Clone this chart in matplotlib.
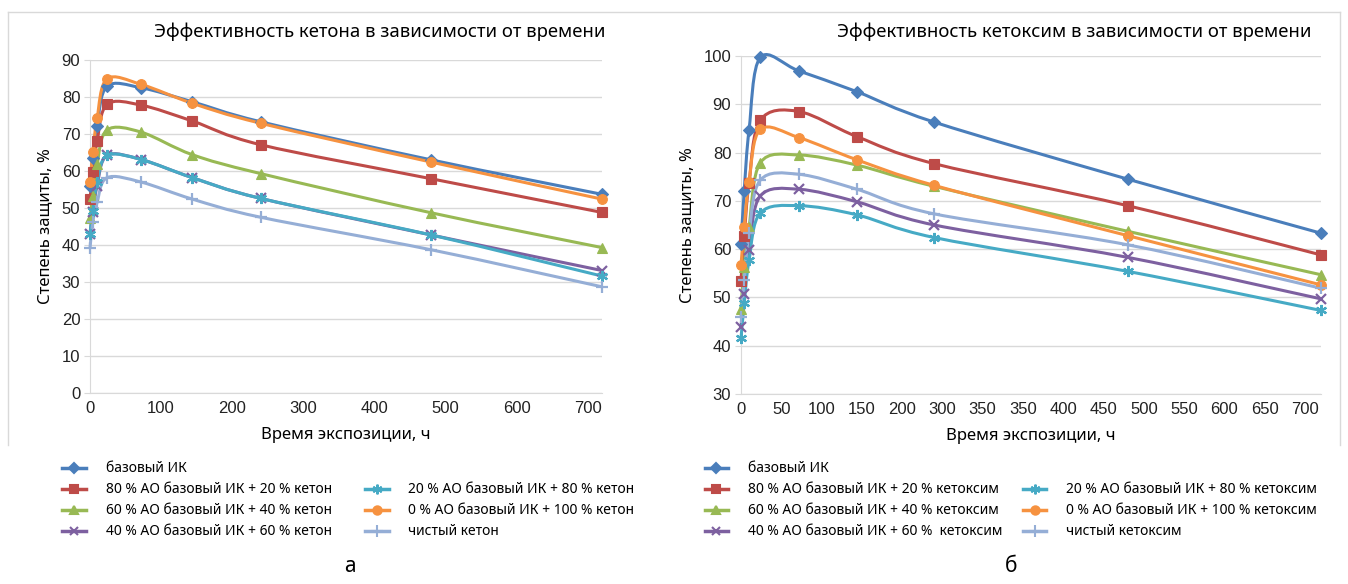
import numpy as np
import matplotlib
matplotlib.use('Agg')
import matplotlib.pyplot as plt
from matplotlib.path import Path
from matplotlib.patches import PathPatch
from matplotlib.lines import Line2D

# data
hours = [0, 4, 10, 24, 72, 144, 240, 480, 720]

ket_base = [56.0, 63.6, 72.2, 82.9, 82.5, 78.7, 73.3, 63.0, 53.7]
ket_80_20 = [52.3, 59.6, 68.0, 78.0, 77.8, 73.5, 67.1, 57.9, 48.8]
ket_60_40 = [47.3, 53.3, 61.8, 71.1, 70.5, 64.4, 59.3, 48.7, 39.3]
ket_40_60 = [43.1, 48.9, 56.0, 64.2, 63.1, 58.2, 52.6, 42.7, 33.1]
ket_20_80 = [43.1, 49.3, 56.9, 64.2, 63.1, 58.2, 52.6, 42.7, 31.6]
ket_0_100 = [56.9, 65.1, 74.3, 84.9, 83.4, 78.3, 72.9, 62.4, 52.4]
ket_pure = [39.1, 46.2, 51.5, 58.2, 57.0, 52.4, 47.5, 38.7, 28.7]

oxim_base = [61.0, 72.1, 84.7, 99.7, 96.9, 92.6, 86.3, 74.5, 63.3]
oxim_80_20 = [53.5, 62.7, 73.8, 86.7, 88.5, 83.3, 77.7, 69.0, 58.8]
oxim_60_40 = [47.7, 56.4, 64.6, 77.9, 79.5, 77.4, 73.0, 63.7, 54.7]
oxim_40_60 = [43.9, 50.8, 59.8, 71.0, 72.4, 69.8, 65.0, 58.3, 49.7]
oxim_20_80 = [41.5, 48.8, 57.7, 67.5, 69.0, 67.1, 62.4, 55.4, 47.3]
oxim_0_100 = [56.7, 64.5, 74.0, 84.8, 83.1, 78.5, 73.2, 62.8, 52.6]
oxim_pure = [46.0, 53.6, 63.3, 74.3, 75.5, 72.4, 67.3, 60.9, 51.9]

ket_labels = ['базовый ИК', '80 % АО базовый ИК + 20 % кетон', '60 % АО базовый ИК + 40 % кетон',
              '40 % АО базовый ИК + 60 % кетон', '20 % АО базовый ИК + 80 % кетон',
              '0 % АО базовый ИК + 100 % кетон', 'чистый кетон']
oxim_labels = ['базовый ИК', '80 % АО базовый ИК + 20 % кетоксим', '60 % АО базовый ИК + 40 % кетоксим',
               '40 % АО базовый ИК + 60 %  кетоксим', '20 % АО базовый ИК + 80 % кетоксим',
               '0 % АО базовый ИК + 100 % кетоксим', 'чистый кетоксим']

left_xticks = [0, 100, 200, 300, 400, 500, 600, 700]
right_xticks = [0, 50, 100, 150, 200, 250, 300, 350, 400, 450, 500, 550, 600, 650, 700]
right_xticklabels = ['0', '50', '100', '150', '200', '300', '350', '350', '400', '450',
                     '500', '550', '600', '650', '700']

colors = ['#4A7EBB', '#BE4B48', '#98B954', '#7D60A0', '#46AAC5', '#F69240', '#95AED6']
markers = ['D', 's', '^', 'x', (6, 2, 0), 'o', '+']
msizes = [6, 7, 7, 7, 8, 7, 9]

FONT = 'Noto Sans'
TICKFONT = 'Liberation Sans'


def smooth_line(ax, x, y, w, h, color):
    # excel-like smoothed line: cubic bezier through the points (done in pixel space)
    x0, x1 = ax.get_xlim()
    y0, y1 = ax.get_ylim()
    px = (np.asarray(x, float) - x0) / (x1 - x0) * w
    py = (np.asarray(y, float) - y0) / (y1 - y0) * h
    n = len(px)
    verts = [(px[0], py[0])]
    codes = [Path.MOVETO]
    for i in range(n - 1):
        a = i - 1 if i > 0 else i
        d = i + 2 if i + 2 < n else i + 1
        c1 = (px[i] + (px[i + 1] - px[a]) / 6, py[i] + (py[i + 1] - py[a]) / 6)
        c2 = (px[i + 1] - (px[d] - px[i]) / 6, py[i + 1] - (py[d] - py[i]) / 6)
        verts += [c1, c2, (px[i + 1], py[i + 1])]
        codes += [Path.CURVE4] * 3
    verts = np.array(verts)
    verts[:, 0] = verts[:, 0] / w * (x1 - x0) + x0
    verts[:, 1] = verts[:, 1] / h * (y1 - y0) + y0
    ax.add_patch(PathPatch(Path(verts, codes), facecolor='none', edgecolor=color,
                           lw=2.2, clip_on=False, zorder=3))


def draw_panel(ax, series, labels, w, h, ylim, yticks, xticks, xticklabels, title, title_x):
    ax.set_xlim(0, 720)
    ax.set_ylim(*ylim)
    ax.set_yticks(yticks)
    ax.set_xticks(xticks)
    ax.set_xticklabels(xticklabels)
    ax.grid(axis='y', color='#D9D9D9', lw=1)
    ax.set_axisbelow(True)
    for s in ['top', 'right']:
        ax.spines[s].set_visible(False)
    for s in ['left', 'bottom']:
        ax.spines[s].set_color('#D9D9D9')
    ax.tick_params(axis='both', length=0, labelsize=12, pad=6)
    ax.tick_params(axis='y', length=4, color='#D9D9D9', pad=3)
    for lab in ax.get_xticklabels() + ax.get_yticklabels():
        lab.set_family(TICKFONT)
        lab.set_color('#222222')
    for i in range(7):
        smooth_line(ax, hours, series[i], w, h, colors[i])
        thin = markers[i] in ['x', '+'] or isinstance(markers[i], tuple)
        ax.plot(hours, series[i], linestyle='none', marker=markers[i], markersize=msizes[i],
                color=colors[i], markeredgecolor=colors[i], markeredgewidth=1.6 if thin else 0.8,
                clip_on=False, zorder=4)
    ax.set_xlabel('Время экспозиции, ч', fontsize=12, family=FONT, labelpad=8)
    ax.set_ylabel('Степень защиты, %', fontsize=12, family=FONT, labelpad=6)
    fig.text(title_x, 1 - 32 / 584, title, fontsize=13.3, family=FONT, ha='center', va='center')

    handles = []
    for i in range(7):
        handles.append(Line2D([], [], color=colors[i], lw=2.5, marker=markers[i], markersize=msizes[i] - 1,
                              markeredgewidth=1.5))
    blank = Line2D([], [], color='none')
    hs = handles[:4] + [blank] + handles[4:]
    ls = labels[:4] + [' '] + labels[4:]
    return hs, ls


fig = plt.figure(figsize=(13.48, 5.84), dpi=100)

# outer frame lines
fig.add_artist(Line2D([8 / 1348, 1340 / 1348], [1 - 12 / 584, 1 - 12 / 584], color='#D9D9D9', lw=1))
fig.add_artist(Line2D([8 / 1348, 8 / 1348], [1 - 12 / 584, 1 - 445 / 584], color='#D9D9D9', lw=1))
fig.add_artist(Line2D([1340 / 1348, 1340 / 1348], [1 - 12 / 584, 1 - 445 / 584], color='#D9D9D9', lw=1))

ax1 = fig.add_axes([90 / 1348, 1 - 393 / 584, 512 / 1348, 333 / 584])
ket = [ket_base, ket_80_20, ket_60_40, ket_40_60, ket_20_80, ket_0_100, ket_pure]
hs, ls = draw_panel(ax1, ket, ket_labels, 512, 333, (0, 90), range(0, 91, 10),
                    left_xticks, [str(v) for v in left_xticks],
                    'Эффективность кетона в зависимости от времени', 380 / 1348)
fig.legend(hs, ls, ncol=2, loc='upper left', bbox_to_anchor=(50 / 1348, 1 - 449 / 584),
           frameon=False, prop={'family': FONT, 'size': 10}, handlelength=1.7,
           handletextpad=1.4, columnspacing=2.4, labelspacing=0.43)

ax2 = fig.add_axes([741 / 1348, 1 - 394 / 584, 580 / 1348, 338 / 584])
oxim = [oxim_base, oxim_80_20, oxim_60_40, oxim_40_60, oxim_20_80, oxim_0_100, oxim_pure]
hs, ls = draw_panel(ax2, oxim, oxim_labels, 580, 338, (30, 100), range(30, 101, 10),
                    right_xticks, right_xticklabels,
                    'Эффективность кетоксим в зависимости от времени', 1074 / 1348)
fig.legend(hs, ls, ncol=2, loc='upper left', bbox_to_anchor=(692 / 1348, 1 - 449 / 584),
           frameon=False, prop={'family': FONT, 'size': 10}, handlelength=1.7,
           handletextpad=1.4, columnspacing=1.5, labelspacing=0.43)

fig.text(350 / 1348, 1 - 567 / 584, 'а', fontsize=15, family=FONT, ha='center', va='center')
fig.text(1011 / 1348, 1 - 567 / 584, 'б', fontsize=15, family=FONT, ha='center', va='center')

fig.savefig('out.png', dpi=100)
